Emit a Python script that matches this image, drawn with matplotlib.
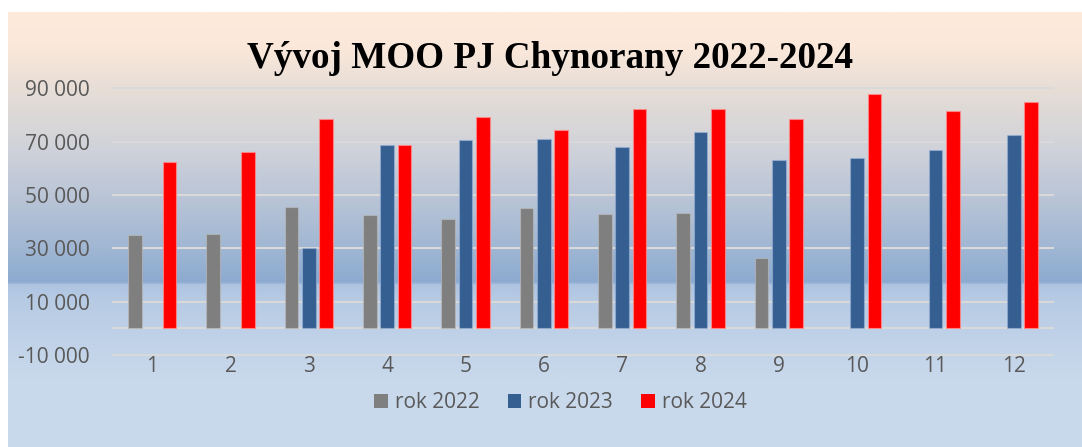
import matplotlib
matplotlib.use("Agg")
import matplotlib.pyplot as plt
import numpy as np
from matplotlib.colors import LinearSegmentedColormap
from matplotlib.patches import Patch

months = [1, 2, 3, 4, 5, 6, 7, 8, 9, 10, 11, 12]
rok_2022 = [35000, 35500, 45400, 42400, 41100, 45000, 42700, 43400, 26300, None, None, None]
rok_2023 = [None, None, 30200, 68600, 70600, 70900, 68100, 73600, 63300, 63800, 66900, 72400]
rok_2024 = [62300, 66300, 78500, 68600, 79200, 74400, 82100, 82200, 78500, 87900, 81600, 84700]
series_names = ["rok 2022", "rok 2023", "rok 2024"]
y_ticks = [-10000, 10000, 30000, 50000, 70000, 90000]
title = "Vývoj MOO PJ Chynorany 2022-2024"

W, H = 1082, 447
fig = plt.figure(figsize=(W / 100, H / 100), dpi=100)
fig.patch.set_facecolor("white")

# background gradient
top_px, left_px = 12, 8
stops_px = [12, 45, 100, 150, 200, 250, 282, 285, 300, 380, 447]
stops_col = ["#FDEADA", "#FBE8DA", "#E2DBD6", "#CFD2DA", "#B8C4D6", "#9FB6D3",
             "#8CAAD0", "#AEC4E1", "#B7CBE4", "#C9D9EC", "#C9D9EC"]
pos = [(p - stops_px[0]) / (stops_px[-1] - stops_px[0]) for p in stops_px]
cmap = LinearSegmentedColormap.from_list("bg", list(zip(pos, stops_col)))
bg = fig.add_axes([left_px / W, 0, 1 - left_px / W, (H - top_px) / H], zorder=-5)
grad = np.linspace(0, 1, 600).reshape(-1, 1)
bg.imshow(grad, cmap=cmap, aspect="auto", extent=[0, 1, 0, 1], origin="upper")
bg.axis("off")

ax = fig.add_axes([113 / W, 1 - 355 / H, (1053 - 113) / W, (355 - 88.3) / H])
ax.patch.set_alpha(0)

x = np.array(months, dtype=float)
bw = 0.172
off = 0.222
colors = ["#7F7F7F", "#365F91", "#FF0000"]
edges = [(0.75, 0.75, 0.75, 0.6), (0.6, 0.7, 0.85, 0.6), (1.0, 0.55, 0.55, 0.8)]
for i, (vals, c, e) in enumerate(zip([rok_2022, rok_2023, rok_2024], colors, edges)):
    v = np.array([np.nan if a is None else a for a in vals], dtype=float)
    m = ~np.isnan(v)
    ax.bar((x + (i - 1) * off)[m], v[m], width=bw, color=c, edgecolor=e, linewidth=0.8,
           zorder=3)

ax.set_xlim(0.5, 12.5)
ax.set_ylim(-10000, 90000)
ax.set_yticks(y_ticks)
ax.set_yticklabels([f"{v:,}".replace(",", " ") for v in y_ticks])
ax.set_xticks(months)
ax.set_xticklabels([str(m) for m in months])
for yv in y_ticks + [0]:
    ax.axhline(yv, color="#D9D9D9", linewidth=1.5, zorder=1, clip_on=False)
for s in ax.spines.values():
    s.set_visible(False)
ax.tick_params(axis="y", length=0, pad=16.5, labelsize=15, labelcolor="#595959")
ax.tick_params(axis="x", length=0, pad=0.5, labelsize=15, labelcolor="#595959")
for lab in ax.get_xticklabels() + ax.get_yticklabels():
    lab.set_fontfamily("Open Sans")

fig.text(0.508, 1 - 68 / H, title, ha="center", va="baseline",
         fontsize=26.7, fontweight="bold", family="Liberation Serif", color="black")

handles = [Patch(facecolor=c, edgecolor="none") for c in colors]
leg = fig.legend(handles, series_names, loc="center", bbox_to_anchor=(560.5 / W, 1 - 403 / H),
                 ncol=3, frameon=False, handlelength=0.65, handleheight=0.65,
                 handletextpad=0.34, columnspacing=1.35,
                 prop={"family": "Open Sans", "size": 15})
for t in leg.get_texts():
    t.set_color("#595959")

fig.savefig("out.png", dpi=100)
